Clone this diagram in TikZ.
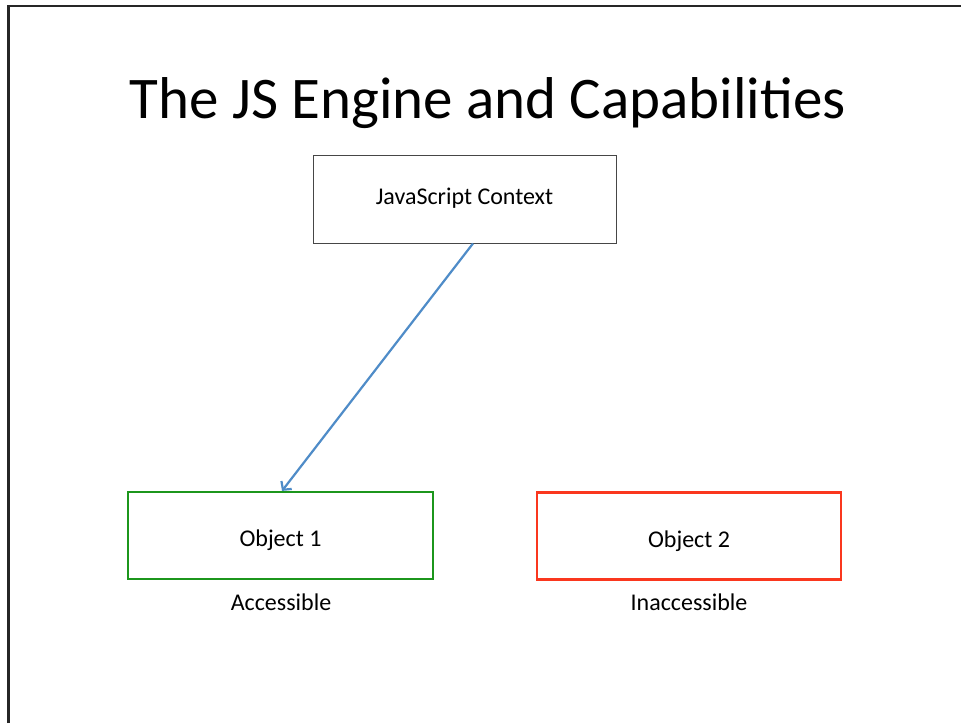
\documentclass[tikz,border=0pt]{standalone}
\usepackage{fontspec}
\setmainfont{Carlito}
\usetikzlibrary{arrows.meta}
\definecolor{objgreen}{RGB}{28,150,28}
\definecolor{objred}{RGB}{250,55,30}
\definecolor{arrowblue}{RGB}{79,140,200}
\definecolor{boxgray}{RGB}{70,70,70}
\tikzset{
  box/.style={draw, rectangle, minimum width=#1, minimum height=87pt, inner sep=0pt, font=\fontsize{24}{28}\selectfont, fill=white, text depth=0pt},
  caption/.style={font=\fontsize{24}{28}\selectfont, inner sep=0pt}
}
\begin{document}
\begin{tikzpicture}[x=1pt,y=-1pt]
\useasboundingbox (0,0) rectangle (961,723);
\fill[white] (0,0) rectangle (961,723);
% frame
\draw[line width=2.4pt, black!85] (8.5,723) -- (8.5,6) -- (961,6);
% title
\node[inner sep=0pt, anchor=base, font=\fontsize{59}{66}\selectfont] (title) at (488,118) {The JS Engine and Capabilities};
% boxes
\node[box=303pt, draw=boxgray, line width=0.9pt, minimum height=88pt, text height=10pt] (js) at (464.5,199) {JavaScript Context};
\node[box=305pt, draw=objgreen, line width=2.2pt, text height=22pt] (o1) at (280.5,535.5) {Object 1};
\node[box=304pt, draw=objred, line width=2.2pt, text height=22pt] (o2) at (689,536) {Object 2};
\node[caption, anchor=base] (c1) at (281,610) {Accessible};
\node[caption, anchor=base] (c2) at (689,610) {Inaccessible};
% arrow
\draw[arrowblue, line width=2.2pt, -{Straight Barb[length=6pt,width=13pt,line width=2.2pt]}] ([xshift=8.5pt]js.south) -- ([xshift=1.5pt]o1.north);
\end{tikzpicture}
\end{document}
